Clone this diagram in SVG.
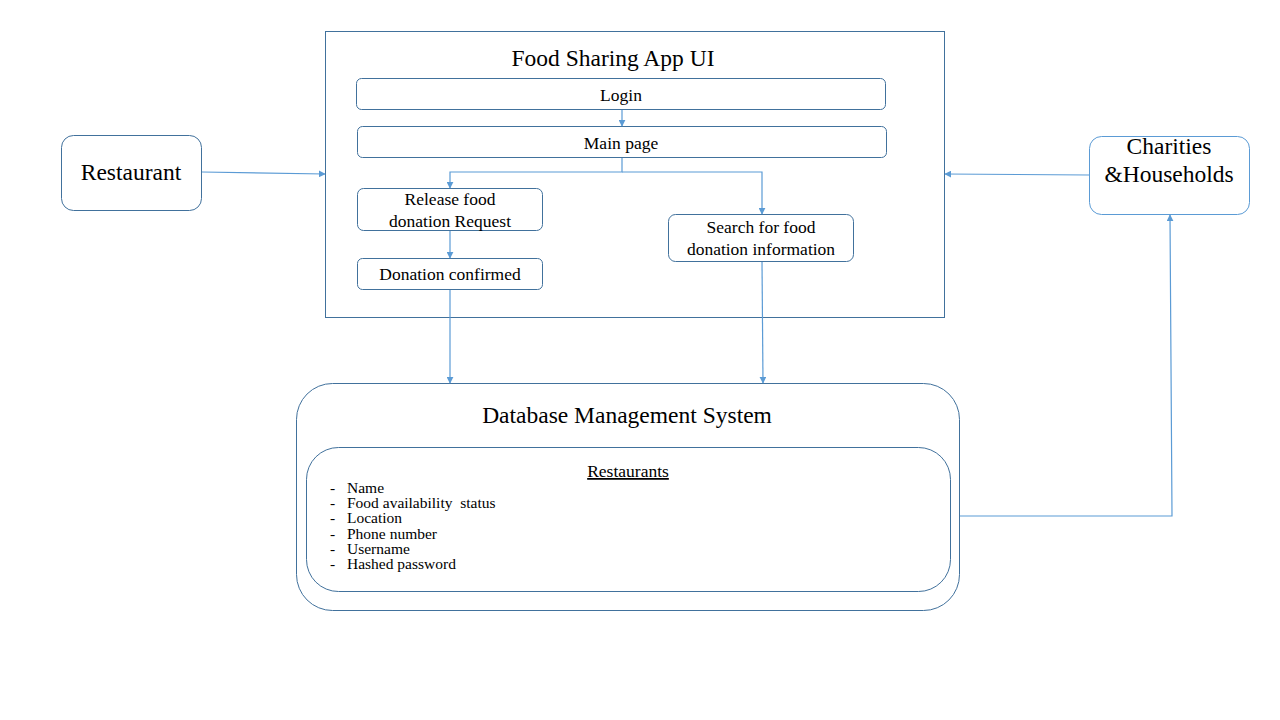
<svg xmlns="http://www.w3.org/2000/svg" width="1280" height="720" viewBox="0 0 1280 720">
<style>
  .box{fill:#fff;stroke:#41719C;stroke-width:1}
  .lbox{fill:#fff;stroke:#5B9BD5;stroke-width:1}
  .t{font-family:"Liberation Serif","Times New Roman",serif;fill:#000;text-anchor:middle}
  .s{font-size:17.5px}
  .l{font-family:"Liberation Serif","Times New Roman",serif;fill:#000;font-size:15.5px}
  .c{fill:none;stroke:#5B9BD5;stroke-width:1.2}
</style>
<defs>
  <marker id="ah" viewBox="0 0 10 10" refX="9" refY="5" markerWidth="7" markerHeight="7" markerUnits="userSpaceOnUse" orient="auto">
    <path d="M0,0 L10,5 L0,10 z" fill="#5B9BD5"/>
  </marker>
</defs>
<rect width="1280" height="720" fill="#fff"/>

<g id="app-ui">
  <rect class="box" x="325.5" y="31.5" width="619" height="286"/>
  <text class="t" x="613" y="66" font-size="23.5">Food Sharing App UI</text>
</g>
<g id="login">
  <rect class="box" x="356.5" y="78.5" width="529" height="31" rx="5"/>
  <text class="t s" x="621" y="101">Login</text>
</g>
<g id="main-page">
  <rect class="box" x="357.5" y="126.5" width="529" height="31" rx="5"/>
  <text class="t s" x="621" y="149">Main page</text>
</g>
<g id="release">
  <rect class="box" x="357.5" y="188.5" width="185" height="42" rx="6"/>
  <text class="t s" x="450" y="205">Release food</text>
  <text class="t s" x="450" y="227">donation Request</text>
</g>
<g id="confirmed">
  <rect class="box" x="357.5" y="258.5" width="185" height="31" rx="5"/>
  <text class="t s" x="450" y="280">Donation confirmed</text>
</g>
<g id="search">
  <rect class="box" x="668.5" y="214.5" width="185" height="47" rx="7"/>
  <text class="t s" x="761" y="233">Search for food</text>
  <text class="t s" x="761" y="255">donation information</text>
</g>
<g id="restaurant">
  <rect class="box" x="61.5" y="135.5" width="140" height="75" rx="12"/>
  <text class="t" x="131" y="180" font-size="23.5">Restaurant</text>
</g>
<g id="charities">
  <rect class="lbox" x="1089.5" y="136.5" width="160" height="78" rx="12"/>
  <text class="t" x="1169" y="154" font-size="23.5">Charities</text>
  <text class="t" x="1169" y="182" font-size="23.5">&amp;Households</text>
</g>
<g id="dbms">
  <rect class="box" x="296.5" y="383.5" width="663" height="227" rx="36"/>
  <text class="t" x="627" y="423" font-size="23.5">Database Management System</text>
</g>
<g id="restaurants-table">
  <rect class="box" x="306.5" y="447.5" width="644" height="144" rx="32"/>
  <text class="t s" x="628" y="477" text-decoration="underline">Restaurants</text>
  <text class="l" x="330" y="493">-</text><text class="l" x="347" y="493">Name</text>
  <text class="l" x="330" y="508">-</text><text class="l" x="347" y="508" xml:space="preserve">Food availability  status</text>
  <text class="l" x="330" y="523">-</text><text class="l" x="347" y="523">Location</text>
  <text class="l" x="330" y="539">-</text><text class="l" x="347" y="539">Phone number</text>
  <text class="l" x="330" y="554">-</text><text class="l" x="347" y="554">Username</text>
  <text class="l" x="330" y="569">-</text><text class="l" x="347" y="569">Hashed password</text>
</g>

<g id="connectors">
  <path class="c" d="M622,110 L622,126" marker-end="url(#ah)"/>
  <path class="c" d="M622,158 L622,172 L450,172 L450,188" marker-end="url(#ah)"/>
  <path class="c" d="M622,172 L762,172 L762,214" marker-end="url(#ah)"/>
  <path class="c" d="M450,231 L450,258" marker-end="url(#ah)"/>
  <path class="c" d="M450,290 L450,383" marker-end="url(#ah)"/>
  <path class="c" d="M762,262 L763,383" marker-end="url(#ah)"/>
  <path class="c" d="M202,172 L325,174" marker-end="url(#ah)"/>
  <path class="c" d="M1089,175 L945,174" marker-end="url(#ah)"/>
  <path class="c" d="M960,516 L1172,516 L1170,215" marker-end="url(#ah)"/>
</g>
</svg>
